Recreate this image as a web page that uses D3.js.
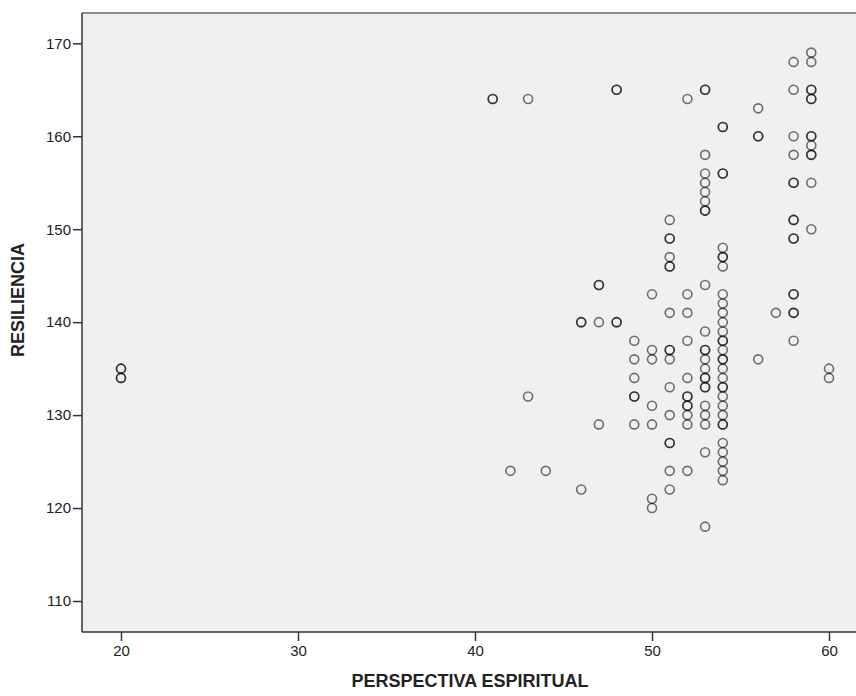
<!DOCTYPE html>
<html lang="es">
<head>
	<meta charset="UTF-8">
	<title>dispersion</title>
	<style>
		* {
			margin: 0;
			padding: 0;
		}
		body {
			background: #fff;
		}
		svg {
			display: block;
			font-family: "Liberation Sans", Arial, sans-serif;
		}
	</style>
</head>
<body>
	<script src="https://cdn.jsdelivr.net/npm/d3@7/dist/d3.min.js"></script>
	<script>
		// valores de PERSPECTIVA ESPIRITUAL (una columna por valor)
		var perspectiva = [20, 41, 42, 43, 44, 46, 47, 48, 49, 50, 51, 52, 53, 54, 56, 57, 58, 59, 60];
		// valores de RESILIENCIA para cada columna (repetidos = casos superpuestos)
		var resiliencia = [
			[135, 135, 134, 134],
			[164, 164],
			[124],
			[164, 132],
			[124],
			[140, 140, 122],
			[144, 144, 140, 129],
			[165, 165, 140, 140],
			[138, 136, 134, 132, 132, 129],
			[143, 137, 136, 131, 129, 121, 120],
			[151, 149, 149, 147, 146, 146, 141, 137, 137, 136, 133, 130, 127, 127, 124, 122],
			[164, 143, 141, 138, 134, 132, 132, 131, 131, 130, 129, 124],
			[165, 165, 158, 156, 155, 154, 153, 152, 152, 144, 139, 137, 137, 136, 135, 134, 134, 133, 133, 131, 130, 129, 126, 118],
			[161, 161, 156, 156, 148, 147, 147, 146, 143, 142, 141, 140, 139, 138, 138, 137, 136, 136, 135, 134, 133, 133, 132, 131, 130, 129, 129, 127, 126, 125, 124, 123],
			[163, 160, 160, 136],
			[141],
			[168, 165, 160, 158, 155, 155, 151, 151, 149, 149, 143, 143, 141, 141, 138],
			[169, 168, 165, 165, 164, 164, 160, 160, 159, 158, 158, 155, 150],
			[135, 134]
		];
		var xTicks = [20, 30, 40, 50, 60];
		var yTicks = [110, 120, 130, 140, 150, 160, 170];

		var width = 856, height = 696;
		// area del grafico
		var plot = {left: 82, top: 13, right: 862, bottom: 632};

		var dataset = [];
		perspectiva.forEach(function (p, i) {
			resiliencia[i].forEach(function (r) {
				dataset.push([p, r]);
			});
		});

		var svg = d3.select('body').append('svg').attr('width', width).attr('height', height);

		var xScale = d3.scaleLinear().domain([20, 60]).range([121, 829]);
		var yScale = d3.scaleLinear().domain([110, 170]).range([601, 43.3]);

		// fondo
		svg.append('rect')
			.attr('x', plot.left)
			.attr('y', plot.top)
			.attr('width', plot.right - plot.left)
			.attr('height', plot.bottom - plot.top)
			.style('fill', '#f0f0f0');

		// borde superior
		svg.append('line')
			.attr('x1', plot.left).attr('x2', plot.right)
			.attr('y1', plot.top).attr('y2', plot.top)
			.style('stroke', '#8a8a8a').style('stroke-width', 2);

		// eje x
		var gx = svg.append('g')
			.attr('transform', 'translate(0,' + plot.bottom + ')')
			.call(d3.axisBottom(xScale).tickValues(xTicks).tickSize(9).tickSizeOuter(0).tickPadding(4));
		gx.select('.domain').remove();

		// eje y
		var gy = svg.append('g')
			.attr('transform', 'translate(' + plot.left + ',0)')
			.call(d3.axisLeft(yScale).tickValues(yTicks).tickSize(9).tickSizeOuter(0).tickPadding(2));
		gy.select('.domain').remove();

		svg.selectAll('.tick line').style('stroke', '#333').style('stroke-width', 1.5);
		svg.selectAll('.tick text')
			.style('font-size', '15px')
			.style('font-family', '"Liberation Sans", Arial, sans-serif')
			.style('fill', '#222');

		// bordes izquierdo e inferior
		svg.append('line')
			.attr('x1', plot.left).attr('x2', plot.left)
			.attr('y1', plot.top).attr('y2', plot.bottom)
			.style('stroke', '#333').style('stroke-width', 1.5);
		svg.append('line')
			.attr('x1', plot.left).attr('x2', plot.right)
			.attr('y1', plot.bottom).attr('y2', plot.bottom)
			.style('stroke', '#333').style('stroke-width', 1.5);

		// puntos
		svg.selectAll('.plot')
			.data(dataset)
			.enter()
			.append('circle')
			.classed('plot', true)
			.attr('cx', function (d) {return xScale(d[0])})
			.attr('cy', function (d) {return yScale(d[1])})
			.attr('r', 4.5)
			.style('fill', 'none')
			.style('stroke', '#000')
			.style('stroke-opacity', 0.55)
			.style('stroke-width', 1.6);

		// titulos
		svg.append('text')
			.attr('x', 470)
			.attr('y', 687)
			.attr('text-anchor', 'middle')
			.style('font-size', '18px')
			.style('font-weight', 'bold')
			.style('fill', '#222')
			.text('PERSPECTIVA ESPIRITUAL');

		svg.append('text')
			.attr('transform', 'translate(24,300) rotate(-90)')
			.attr('text-anchor', 'middle')
			.style('font-size', '18px')
			.style('font-weight', 'bold')
			.style('fill', '#222')
			.text('RESILIENCIA');
	</script>
</body>
</html>
